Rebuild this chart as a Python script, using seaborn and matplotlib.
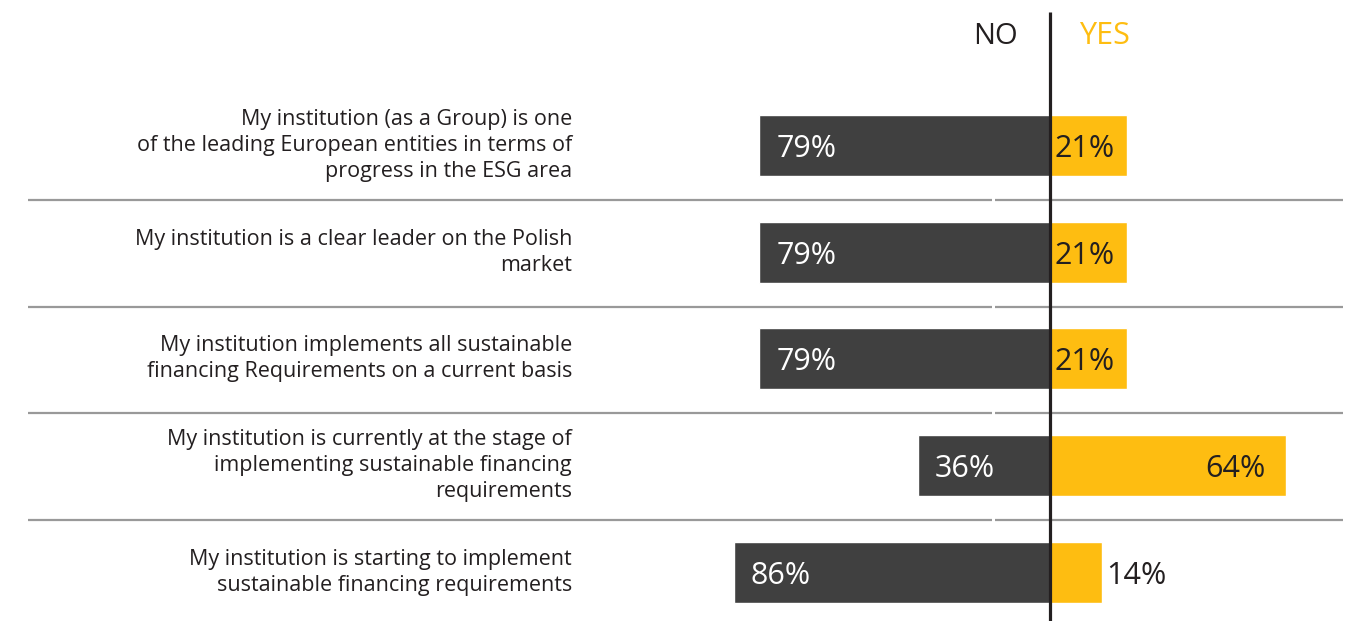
import matplotlib
matplotlib.use("Agg")
import matplotlib.pyplot as plt
import numpy as np
import pandas as pd
import seaborn as sns

# data
statements = [
    "My institution (as a Group) is one\nof the leading European entities in terms of\nprogress in the ESG area",
    "My institution is a clear leader on the Polish\nmarket",
    "My institution implements all sustainable\nfinancing Requirements on a current basis",
    "My institution is currently at the stage of\nimplementing sustainable financing\nrequirements",
    "My institution is starting to implement\nsustainable financing requirements",
]
no_pct = [79, 79, 79, 36, 86]
yes_pct = [21, 21, 21, 64, 14]

DARK = "#404040"
YELLOW = "#FEBD11"
INK = "#231F20"
GRID = "#999999"

sns.set_style("white")
plt.rcParams["font.family"] = ["Open Sans", "DejaVu Sans"]

# pixel layout helpers (figure is 1348 x 621 px)
W, H = 1348, 621
zero_px = 1050      # centre line
px_per_pct = 3.68
row0_px = 145.5     # centre of first bar
row_step = 106.65

df = pd.DataFrame({"statement": statements * 2,
                   "answer": ["NO"] * 5 + ["YES"] * 5,
                   "value": [-v for v in no_pct] + yes_pct})

fig = plt.figure(figsize=(W / 100, H / 100), dpi=100)
ax = fig.add_axes([0, 0, 1, 1])

sns.barplot(data=df, x="value", y="statement", hue="answer", orient="h",
            palette={"NO": DARK, "YES": YELLOW}, dodge=False, width=0.572,
            saturation=1, errorbar=None, legend=False, ax=ax)

def px_x(p):
    return (p - zero_px) / px_per_pct

def px_y(p):
    return (p - row0_px) / row_step

ax.set_xlim(px_x(0), px_x(W))
ax.set_ylim(px_y(H), px_y(0))
ax.axis("off")

# statement labels
for i, s in enumerate(statements):
    ax.text(px_x(572), i, s, ha="right", va="center", fontsize=15.5,
            color=INK, linespacing=1.3)

# value labels
for i, (n, y) in enumerate(zip(no_pct, yes_pct)):
    ax.text(-n + 4.6, i, f"{n}%", ha="left", va="center_baseline",
            fontsize=22, color="white")
    if y >= 50:
        ax.text(y - 5.5, i, f"{y}%", ha="right", va="center_baseline",
                fontsize=22, color=INK)
    elif y >= 20:
        ax.text(1.3, i, f"{y}%", ha="left", va="center_baseline",
                fontsize=22, color=INK)
    else:
        ax.text(y + 1.4, i, f"{y}%", ha="left", va="center_baseline",
                fontsize=22, color=INK)

# row separators
for i in range(4):
    yy = i + 0.51
    ax.plot([px_x(28), px_x(992)], [yy, yy], color=GRID, lw=1.6,
            solid_capstyle="butt")
    ax.plot([px_x(995), px_x(1343)], [yy, yy], color=GRID, lw=1.6,
            solid_capstyle="butt")

# centre line
ax.plot([0, 0], [px_y(12), px_y(H)], color=INK, lw=2.3,
        solid_capstyle="butt", zorder=5)

# header
ax.text(px_x(995), px_y(33), "NO", ha="center", va="center_baseline",
        fontsize=21, color=INK)
ax.text(px_x(1104), px_y(33), "YES", ha="center", va="center_baseline",
        fontsize=22, color=YELLOW)

fig.savefig("out.png", dpi=100)
